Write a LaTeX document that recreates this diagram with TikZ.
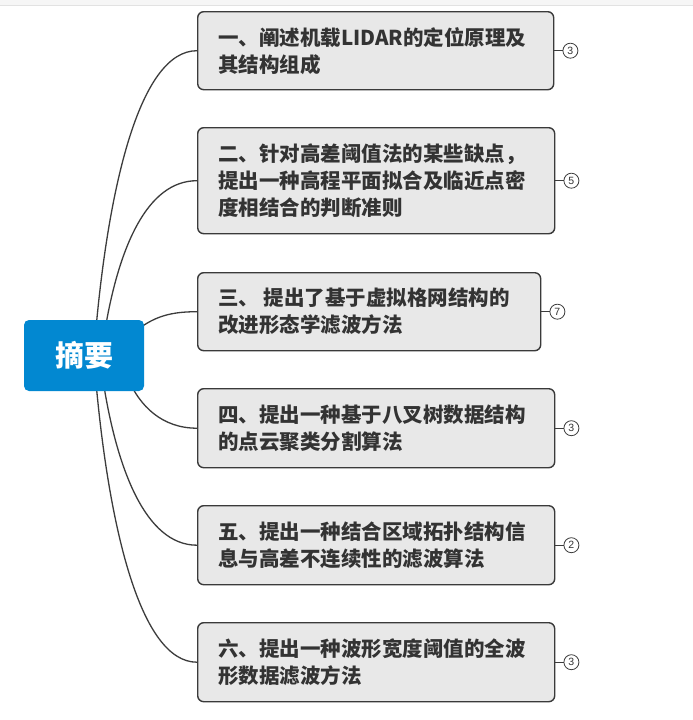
\documentclass[tikz,border=0pt]{standalone}
\usepackage{fontspec}
\newfontfamily\cjk{Noto Sans CJK SC}
\newfontfamily\numfont{Liberation Sans}
\definecolor{rootblue}{HTML}{0288D1}
\definecolor{boxfill}{HTML}{E8E8E8}
\definecolor{boxline}{HTML}{3A3A3A}
\definecolor{txt}{HTML}{333333}
\definecolor{linec}{HTML}{3C3C3C}
\definecolor{topbar}{HTML}{F6F6F6}
\definecolor{topline}{HTML}{E2E2E2}
\pgfdeclarelayer{back}
\pgfdeclarelayer{bg}
\pgfsetlayers{back,bg,main}
\begin{document}
\begin{tikzpicture}[x=1pt,y=-1pt,
  topicbox/.style={draw=boxline, fill=boxfill, line width=1.4pt, rounded corners=6pt,
    anchor=north west, inner sep=0pt},
  lbl/.style={anchor=west, inner sep=0pt, align=left, text=txt,
    font=\cjk\bfseries\fontsize{20.5}{27}\selectfont},
  rootbox/.style={fill=rootblue, rounded corners=5pt, minimum width=120pt, minimum height=71pt,
    inner sep=0pt, text=white, font=\cjk\bfseries\fontsize{29}{29}\selectfont},
  conn/.style={draw=linec, line width=1.3pt},
  stub/.style={draw=linec, line width=0.9pt},
  numc/.style={circle, draw=linec, fill=white, line width=0.8pt, minimum size=15pt, inner sep=0pt,
    text=txt, font=\numfont\fontsize{10.5}{10.5}\selectfont}
]
\useasboundingbox (0,0) rectangle (693,720);
\begin{pgfonlayer}{back}
\fill[white] (0,0) rectangle (693,720);
\fill[topbar] (0,0) rectangle (693,5);
\draw[topline, line width=1pt] (0,5.5) -- (693,5.5);
\end{pgfonlayer}

% root
\node[rootbox] (root) at (84,355.5) {摘要};

% topic boxes
\node[topicbox, minimum width=356pt, minimum height=78pt] (b1) at (197,11) {};
\node[topicbox, minimum width=357pt, minimum height=106pt] (b2) at (197,127) {};
\node[topicbox, minimum width=343pt, minimum height=78pt] (b3) at (197,272) {};
\node[topicbox, minimum width=357pt, minimum height=79pt] (b4) at (197,388) {};
\node[topicbox, minimum width=357pt, minimum height=79pt] (b5) at (197,505) {};
\node[topicbox, minimum width=357pt, minimum height=79pt] (b6) at (197,622) {};

% labels
\node[lbl] (t1) at ([xshift=21pt]b1.west) {一、阐述机载LIDAR的定位原理及\\其结构组成};
\node[lbl] (t2) at ([xshift=21pt]b2.west) {二、针对高差阈值法的某些缺点，\\提出一种高程平面拟合及临近点密\\度相结合的判断准则};
\node[lbl] (t3) at ([xshift=21pt]b3.west) {三、 提出了基于虚拟格网结构的\\改进形态学滤波方法};
\node[lbl] (t4) at ([xshift=21pt]b4.west) {四、提出一种基于八叉树数据结构\\的点云聚类分割算法};
\node[lbl] (t5) at ([xshift=21pt]b5.west) {五、提出一种结合区域拓扑结构信\\息与高差不连续性的滤波算法};
\node[lbl] (t6) at ([xshift=21pt]b6.west) {六、提出一种波形宽度阈值的全波\\形数据滤波方法};

% count circles
\node[numc] (n1) at ([xshift=16pt]b1.east) {3};
\node[numc] (n2) at ([xshift=16pt]b2.east) {5};
\node[numc] (n3) at ([xshift=16pt]b3.east) {7};
\node[numc] (n4) at ([xshift=16pt]b4.east) {3};
\node[numc] (n5) at ([xshift=16pt]b5.east) {2};
\node[numc] (n6) at ([xshift=16pt]b6.east) {3};
\foreach \i in {1,...,6} {\draw[stub] (b\i.east) -- (n\i.west);}

% connector start points on the root
\coordinate (s1) at ([xshift=73pt]root.north west);
\coordinate (s2) at ([xshift=83pt]root.north west);
\coordinate (s3) at ([xshift=104pt,yshift=-18pt]root.north west);
\coordinate (s4) at ([xshift=104pt,yshift=13pt]root.south west);
\coordinate (s5) at ([xshift=81pt]root.south west);
\coordinate (s6) at ([xshift=73pt]root.south west);

\begin{pgfonlayer}{bg}
\draw[conn] (s1) .. controls +(13,-135) and +(-57,0) .. (b1.west);
\draw[conn] (s2) .. controls +(13,-70) and +(-51,0) .. (b2.west);
\draw[conn] (s3) .. controls +(22,-20) and +(-30,0) .. (b3.west);
\draw[conn] (s4) .. controls +(12,28) and +(-35,0) .. (b4.west);
\draw[conn] (s5) .. controls +(13,76) and +(-52,0) .. (b5.west);
\draw[conn] (s6) .. controls +(13,135) and +(-57,0) .. (b6.west);
\end{pgfonlayer}
\end{tikzpicture}
\end{document}
